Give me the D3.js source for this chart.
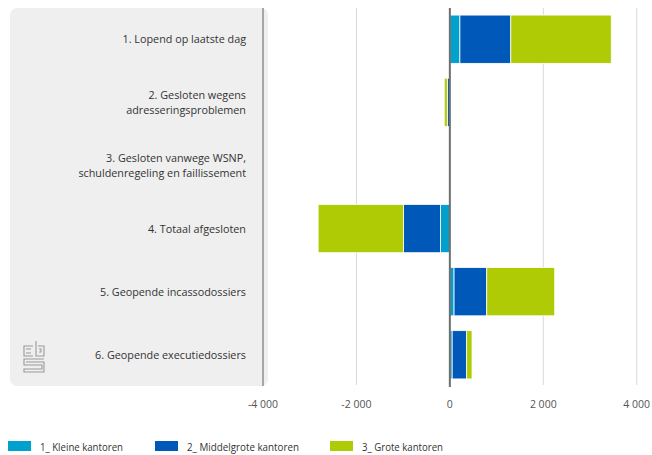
<!DOCTYPE html>
<html>
<head>
<meta charset="utf-8">
<script src="https://cdn.jsdelivr.net/npm/d3@7"></script>
<style>
  body { margin: 0; background: #fff; }
  svg { display: block; font-family: "Open Sans", "Noto Sans", sans-serif; }
</style>
</head>
<body>
<svg id="chart" width="652" height="455"></svg>
<script>
const categories = [
  ["1. Lopend op laatste dag"],
  ["2. Gesloten wegens", "adresseringsproblemen"],
  ["3. Gesloten vanwege WSNP,", "schuldenregeling en faillissement"],
  ["4. Totaal afgesloten"],
  ["5. Geopende incassodossiers"],
  ["6. Geopende executiedossiers"]
];
const seriesNames = ["1_ Kleine kantoren", "2_ Middelgrote kantoren", "3_ Grote kantoren"];
const kleine = [215, -10, 0, -200, 90, 50];
const middel = [1090, -45, 0, -790, 700, 310];
const grote = [2150, -65, 0, -1830, 1455, 115];
const tickValues = [-4000, -2000, 0, 2000, 4000];
const colors = ["#00a1cd", "#0058b8", "#afcb05"];

const svg = d3.select("#chart");
const x = d3.scaleLinear().domain([-4000, 4000]).range([263, 636.7]);
const y = d3.scaleBand().domain(d3.range(categories.length)).range([7.5, 386.5]).paddingInner(0.235).paddingOuter(0.12);

// panel background
svg.append("rect").attr("x", 10).attr("y", 8).attr("width", 258).attr("height", 378)
  .attr("rx", 7).attr("fill", "#efefef");
svg.append("rect").attr("x", 256).attr("y", 8).attr("width", 7).attr("height", 378).attr("fill", "#efefef");

// gridlines
const grid = svg.append("g");
tickValues.filter(v => v !== 0 && v !== -4000).forEach(v => {
  grid.append("line").attr("x1", x(v)).attr("x2", x(v)).attr("y1", 8).attr("y2", 385)
    .attr("stroke", "#d9d9d9").attr("stroke-width", 1);
});
// left axis line
svg.append("line").attr("x1", x(-4000)).attr("x2", x(-4000)).attr("y1", 8).attr("y2", 386)
  .attr("stroke", "#a6a6a6").attr("stroke-width", 2);

// bars
const data = [kleine, middel, grote];
const barG = svg.append("g");
categories.forEach((c, i) => {
  let pos = 0, neg = 0;
  data.forEach((s, k) => {
    const v = s[i];
    if (v === 0) return;
    let x0, x1;
    if (v > 0) { x0 = pos; x1 = pos + v; pos = x1; }
    else { x0 = neg + v; x1 = neg; neg = x0; }
    barG.append("rect")
      .attr("x", x(x0)).attr("width", x(x1) - x(x0))
      .attr("y", y(i)).attr("height", y.bandwidth())
      .attr("fill", colors[k]).attr("stroke", "#fff").attr("stroke-width", 0.8);
  });
});

// zero line
svg.append("line").attr("x1", x(0)).attr("x2", x(0)).attr("y1", 8).attr("y2", 387)
  .attr("stroke", "#6e6e6e").attr("stroke-width", 2);

// x axis labels
svg.append("g").selectAll("text").data(tickValues).join("text")
  .attr("x", d => x(d)).attr("y", 408).attr("text-anchor", "middle")
  .attr("font-size", 10.5).attr("fill", "#555")
  .text(d => d === 0 ? "0" : (d < 0 ? "-" : "") + d3.format(",")(Math.abs(d)).replace(/,/g, " "));

// category labels
categories.forEach((lines, i) => {
  const cy = y(i) + y.bandwidth() / 2;
  const lh = 15;
  const t = svg.append("text").attr("text-anchor", "end").attr("font-size", 10.8).attr("fill", "#333");
  lines.forEach((l, j) => {
    t.append("tspan").attr("x", 246).attr("y", cy + 4 + (j - (lines.length - 1) / 2) * lh).text(l);
  });
});

// cbs logo (approximation)
const logo = svg.append("g").attr("fill", "none").attr("stroke", "#999").attr("stroke-width", 1.1);
logo.append("path").attr("d", "M33,346 H24 V356 H33 M26,349 H31 M26,353 H31");
logo.append("path").attr("d", "M36,341 V356 H44 V346 H38 M39,349 H41 V352 H39");
logo.append("path").attr("d", "M44,359 H24 V365 H42 V369 H24 V372 H44 V362 H26");

// legend
const legX = [8, 155, 330];
const legW = [83, 112, 81];
seriesNames.forEach((n, k) => {
  svg.append("rect").attr("x", legX[k]).attr("y", 441).attr("width", 23).attr("height", 10).attr("fill", colors[k]);
  svg.append("text").attr("x", legX[k] + 32).attr("y", 450.5).attr("font-size", 11.5).attr("fill", "#333")
    .attr("textLength", legW[k]).attr("lengthAdjust", "spacingAndGlyphs").text(n);
});
</script>
</body>
</html>
